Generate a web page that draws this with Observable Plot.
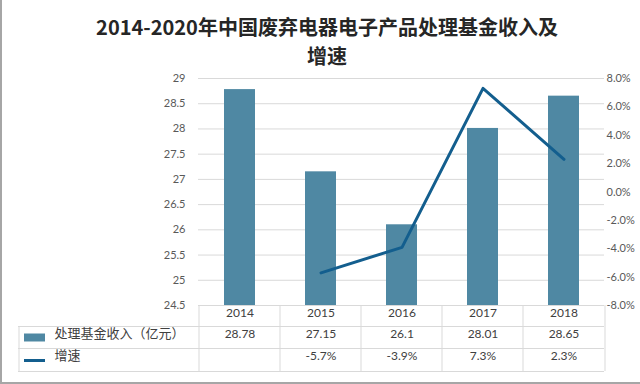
<!DOCTYPE html>
<html>
<head>
<meta charset="utf-8">
<script src="https://cdn.jsdelivr.net/npm/d3@7"></script>
<script src="https://cdn.jsdelivr.net/npm/@observablehq/plot@0.6"></script>
<style>
  html, body { margin: 0; padding: 0; background: #fff; }
  #wrap { width: 640px; height: 384px; box-sizing: border-box; border-left: 2px solid #a6a6a6; border-bottom: 2px solid #a6a6a6; position: relative; overflow: hidden; }
  .title { position: absolute; left: 12px; width: 626px; text-align: center;
    font-family: "Noto Sans CJK SC", sans-serif; font-weight: bold; font-size: 20px; line-height: 29px; color: #262626; white-space: nowrap; }
  #t1 { top: 12px; }
  #t2 { top: 41px; }
  #chart { position: absolute; left: -2px; top: 66px; }
</style>
</head>
<body>
<div id="wrap">
  <div class="title" id="t1">2014-2020年中国废弃电器电子产品处理基金收入及</div>
  <div class="title" id="t2">增速</div>
  <div id="chart"></div>
</div>
<script>
const years = ["2014", "2015", "2016", "2017", "2018"];
const revenue = [28.78, 27.15, 26.1, 28.01, 28.65];
const growth = [null, -5.7, -3.9, 7.3, 2.3];
const revenueLabels = ["28.78", "27.15", "26.1", "28.01", "28.65"];
const growthLabels = ["", "-5.7%", "-3.9%", "7.3%", "2.3%"];
const leftTicks = [24.5, 25, 25.5, 26, 26.5, 27, 27.5, 28, 28.5, 29];
const rightTicks = [-8, -6, -4, -2, 0, 2, 4, 6, 8];
const seriesNames = ["处理基金收入（亿元）", "增速"];

const barColor = "#4f88a3";
const lineColor = "#135e8e";

const toLeft = d3.scaleLinear([-8, 8], [24.5, 29]);

const rows = years.map((y, i) => ({year: y, revenue: revenue[i], growth: growth[i], rl: revenueLabels[i], gl: growthLabels[i]}));
const lineRows = rows.filter(d => d.growth != null);

const font = "Lato, 'Noto Sans CJK SC', sans-serif";
const gridColor = "#d9d9d9";

const chart = Plot.plot({
  width: 640,
  height: 318,
  marginTop: 12,
  marginBottom: 79,
  marginLeft: 198,
  marginRight: 36,
  style: {fontFamily: font, fontSize: "11px", color: "#595959", background: "transparent", overflow: "visible"},
  x: {type: "band", domain: years, paddingInner: 0.62, paddingOuter: 0.31, axis: null},
  y: {domain: [24.5, 29]},
  marks: [
    Plot.gridY(leftTicks, {stroke: gridColor, strokeOpacity: 1}),
    Plot.axisY(leftTicks, {anchor: "left", tickSize: 0, tickPadding: 13, label: null, tickFormat: d => String(d), fill: "#595959"}),
    Plot.axisY(rightTicks.map(toLeft), {anchor: "right", tickSize: 0, tickPadding: 2, label: null,
      tickFormat: v => Math.round(toLeft.invert(v)).toFixed(1) + "%", fill: "#595959"}),
    Plot.barY(rows, {x: "year", y1: 24.5, y2: "revenue", fill: barColor}),
    Plot.line(lineRows, {x: "year", y: d => toLeft(d.growth), stroke: lineColor, strokeWidth: 3}),
    // data table lines
    Plot.ruleY([24.5], {stroke: gridColor}),
    Plot.ruleY([24.5], {dy: 21, insetLeft: -180, stroke: gridColor}),
    Plot.ruleY([24.5], {dy: 43, insetLeft: -180, stroke: gridColor}),
    Plot.ruleY([24.5], {dy: 66, insetLeft: -180, stroke: gridColor}),
    Plot.ruleX(years, {x: d => d, y1: 24.5, y2: 24.5, insetBottom: -66, dx: -41, stroke: gridColor}),
    Plot.ruleX([years[years.length - 1]], {x: d => d, y1: 24.5, y2: 24.5, insetBottom: -66, dx: 41, stroke: gridColor}),
    Plot.ruleX([years[0]], {x: d => d, y1: 24.5, y2: 24.5, insetTop: 21, insetBottom: -66, dx: -221, stroke: gridColor}),
    // table text
    Plot.text(rows, {x: "year", text: "year", frameAnchor: "bottom", dy: 11, fontSize: 12, fill: "#404040"}),
    Plot.text(rows, {x: "year", text: "rl", frameAnchor: "bottom", dy: 32, fontSize: 12, fill: "#404040"}),
    Plot.text(rows, {x: "year", text: "gl", frameAnchor: "bottom", dy: 54, fontSize: 12, fill: "#404040"}),
    // legend column
    Plot.ruleY([24.5], {dy: 32, insetLeft: -174, insetRight: 559, stroke: barColor, strokeWidth: 8}),
    Plot.ruleY([24.5], {dy: 55, insetLeft: -174, insetRight: 559, stroke: lineColor, strokeWidth: 3}),
    Plot.text([seriesNames[0]], {text: d => d, frameAnchor: "bottom-left", dx: -144, dy: 32, textAnchor: "start", fontSize: 13, fill: "#404040"}),
    Plot.text([seriesNames[1]], {text: d => d, frameAnchor: "bottom-left", dx: -144, dy: 54, textAnchor: "start", fontSize: 13, fill: "#404040"})
  ]
});
document.getElementById("chart").appendChild(chart);
</script>
</body>
</html>
